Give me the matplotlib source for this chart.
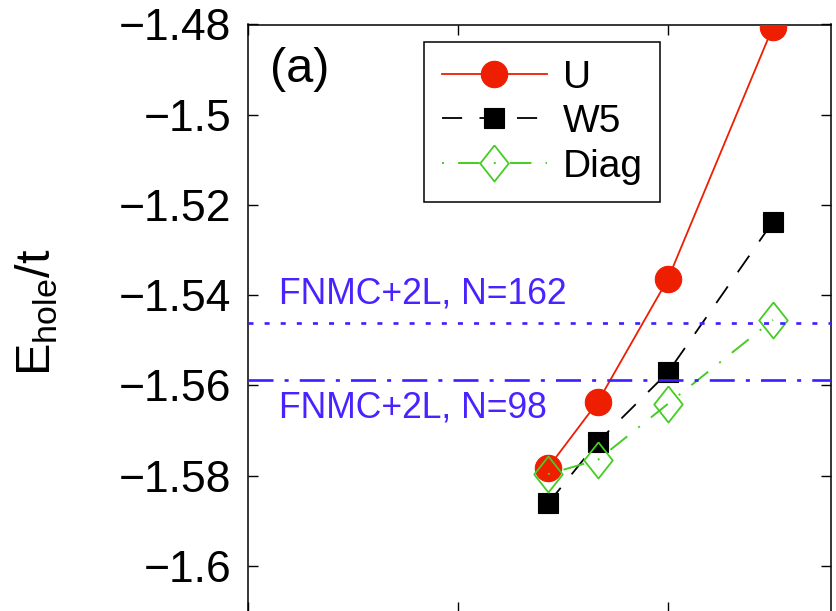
import matplotlib
matplotlib.use("Agg")
import matplotlib.pyplot as plt
from matplotlib.ticker import FixedLocator, FuncFormatter

plt.rcParams['font.family'] = ['Liberation Sans', 'DejaVu Sans']
plt.rcParams['mathtext.default'] = 'regular'
plt.rcParams['lines.scale_dashes'] = False

# inverse linear size 1/L for L = 7, 6, 5, 4
inv_L = [1 / 7, 1 / 6, 1 / 5, 1 / 4]
e_U = [-1.5783, -1.5636, -1.5364, -1.4805]
e_W5 = [-1.5862, -1.5725, -1.5571, -1.5237]
e_diag = [-1.5797, -1.5765, -1.5641, -1.5455]

fnmc_162 = -1.5461
fnmc_98 = -1.5588

y_ticks = [-1.6, -1.58, -1.56, -1.54, -1.52, -1.5, -1.48]
x_ticks = [0.0, 0.1, 0.2]

RED = '#ee1e00'
GREEN = '#46cc22'
BLUE = '#3c1eff'
TEXT_BLUE = '#4a22ff'

W, H = 836, 611
fig = plt.figure(figsize=(W / 100, H / 100), dpi=100)

# axes frame in pixel terms
left_px, right_px, top_px, bot_px = 248, 831, 24.5, 611.5
ax = fig.add_axes([left_px / W, (H - bot_px) / H,
                   (right_px - left_px) / W, (bot_px - top_px) / H])

px_per_unit = 90.2 / 0.02
y_top = -1.48
y_bot = y_top - (bot_px - top_px) / px_per_unit
ax.set_ylim(y_bot, y_top)
ax.set_xlim(0, 0.2776)

diamond = [(0, 1), (0.79, 0), (0, -1), (-0.79, 0), (0, 1)]

ax.plot(inv_L, e_U, color=RED, lw=1.3, marker='o', ms=19,
        mfc=RED, mec=RED, mew=0.8, label='U', zorder=3)
ax.plot(inv_L, e_W5, color='black', lw=1.3, ls=(0, (14.5, 12.5)),
        marker='s', ms=15, mfc='black', mec='black', mew=0.8,
        label='W5', zorder=4)
ax.plot(inv_L, e_diag, color=GREEN, lw=1.4, ls=(0, (1.4, 10.2, 15.5, 10.2)),
        marker=diamond, ms=26, mfc='none', mec=GREEN, mew=1.3,
        label='Diag', zorder=5)

ax.axhline(fnmc_162, color=BLUE, lw=1.9, ls=(0, (3.6, 8.0)), zorder=6)
ax.axhline(fnmc_98, color=BLUE, lw=1.9, ls=(0, (18, 8, 2.9, 8)), zorder=6)


def ax_xy(px, py):
    return ((px - left_px) / (right_px - left_px),
            (bot_px - py) / (bot_px - top_px))


ax.text(*ax_xy(279, 294), 'FNMC+2L, N=162', transform=ax.transAxes,
        fontsize=25.6, color=TEXT_BLUE, ha='left', va='center')
ax.text(*ax_xy(279, 408), 'FNMC+2L, N=98', transform=ax.transAxes,
        fontsize=25.6, color=TEXT_BLUE, ha='left', va='center')

ax.text(*ax_xy(270, 70), '(a)', transform=ax.transAxes, fontsize=35,
        color='black', ha='left', va='center')

ax.yaxis.set_major_locator(FixedLocator(y_ticks))
ax.yaxis.set_major_formatter(
    FuncFormatter(lambda v, p: ('%g' % v).replace('-', '\u2212')))
ax.xaxis.set_major_locator(FixedLocator(x_ticks))
ax.xaxis.set_major_formatter(FuncFormatter(lambda v, p: ''))

ax.tick_params(axis='both', which='major', direction='in', length=7,
               width=1.0, top=True, right=True, labelsize=32, pad=12,
               colors='black')
for sp in ax.spines.values():
    sp.set_linewidth(1.1)
    sp.set_color('black')

fig.text(37 / W, 1 - 312 / H, r'$E_{hole}/t$', rotation=90,
         fontsize=35, ha='center', va='center')

leg = ax.legend(loc='upper left',
                bbox_to_anchor=(424 / W, 1 - 42 / H),
                bbox_transform=fig.transFigure, borderaxespad=0,
                fontsize=28, handlelength=2.7, handletextpad=0.42,
                labelspacing=0.22, borderpad=0.45, fancybox=False,
                framealpha=1, edgecolor='black', numpoints=1)
leg.get_frame().set_linewidth(1.1)

fig.savefig('out.png', dpi=100)
